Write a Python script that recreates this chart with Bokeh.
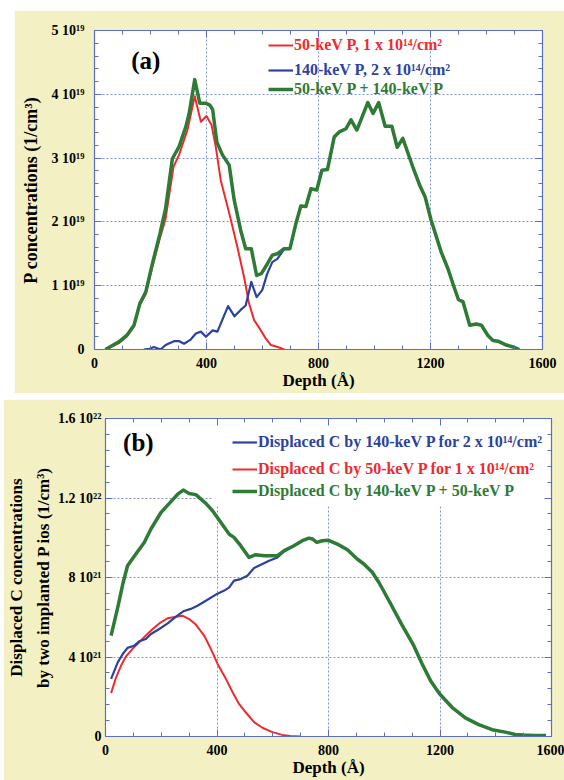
from bokeh.plotting import figure
from bokeh.models import (LinearAxis, FixedTicker, Legend, LegendItem, Label, Range1d,
                          CustomJSTickFormatter, BoxAnnotation)
from bokeh.core.properties import value
from bokeh.embed import file_html
from bokeh.resources import INLINE

# ---------------- data: panel (a), P concentrations in units of 1e19 /cm3 ----------------
a_green_x = [39, 87, 115, 141, 162, 183, 207, 234, 254, 278, 302, 326, 338, 358, 376, 398, 412, 422,
             437, 457, 481, 499, 522, 540, 560, 579, 596, 617, 635, 653, 677, 698, 719, 737, 755, 773,
             794, 812, 832, 856, 874, 898, 916, 937, 976, 995, 1015, 1038, 1062, 1081, 1101, 1137,
             1161, 1181, 1202, 1238, 1262, 1284, 1300, 1316, 1340, 1364, 1382, 1405, 1423, 1441,
             1471, 1495, 1517]
a_green_y = [0, 0.12, 0.22, 0.38, 0.72, 0.90, 1.35, 1.82, 2.21, 2.99, 3.18, 3.49, 3.70, 4.23, 3.86,
             3.86, 3.83, 3.76, 3.25, 3.05, 2.89, 2.34, 1.87, 1.58, 1.58, 1.16, 1.19, 1.34, 1.48, 1.50,
             1.58, 1.58, 1.97, 2.25, 2.24, 2.52, 2.50, 2.81, 2.82, 3.33, 3.41, 3.46, 3.60, 3.44, 3.87,
             3.70, 3.87, 3.50, 3.50, 3.17, 3.31, 2.86, 2.58, 2.39, 2.03, 1.53, 1.27, 0.98, 0.78, 0.75,
             0.38, 0.40, 0.38, 0.22, 0.14, 0.13, 0.07, 0.04, 0]

a_red_x = [39, 87, 115, 141, 162, 183, 207, 234, 254, 282, 302, 332, 358, 380, 400, 418, 433, 451,
           475, 486, 510, 534, 552, 570, 594, 612, 630, 654, 678]
a_red_y = [0, 0.10, 0.20, 0.36, 0.70, 0.87, 1.30, 1.75, 2.05, 2.86, 3.05, 3.44, 3.97, 3.57, 3.66,
           3.52, 3.18, 2.65, 2.24, 2.05, 1.61, 1.14, 0.72, 0.46, 0.30, 0.17, 0.07, 0.04, 0]

a_blue_x = [176, 197, 212, 236, 254, 284, 303, 320, 342, 362, 380, 398, 422, 439, 477, 500, 522, 540,
            560, 579, 599, 617, 635, 653, 677, 698, 719, 737, 755, 773, 794, 812, 832, 856, 874, 898,
            916, 937, 976, 995, 1015, 1038, 1062, 1081, 1101, 1137, 1161, 1181, 1202, 1238, 1262,
            1284, 1300, 1316, 1340, 1364, 1382, 1405, 1423, 1441, 1471, 1495, 1517]
a_blue_y = [0, 0.01, 0.04, 0, 0.07, 0.13, 0.13, 0.09, 0.15, 0.25, 0.28, 0.20, 0.30, 0.28, 0.68, 0.52,
            0.62, 0.69, 1.06, 0.82, 0.93, 1.19, 1.37, 1.42, 1.57, 1.58, 1.97, 2.25, 2.24, 2.52, 2.50,
            2.81, 2.82, 3.33, 3.41, 3.46, 3.60, 3.44, 3.87, 3.70, 3.87, 3.50, 3.50, 3.17, 3.31, 2.86,
            2.58, 2.39, 2.03, 1.53, 1.27, 0.98, 0.78, 0.75, 0.38, 0.40, 0.38, 0.22, 0.14, 0.13, 0.07,
            0.04, 0]

# ---------------- data: panel (b), displaced C in units of 1e21 /cm3 ----------------
b_green_x = [20, 44, 62, 79, 109, 139, 163, 199, 229, 259, 279, 300, 324, 360, 384, 414, 444, 461,
             485, 515, 539, 569, 617, 641, 676, 706, 730, 742, 758, 778, 798, 832, 868, 903, 927,
             957, 981, 1017, 1065, 1106, 1136, 1166, 1199, 1243, 1291, 1339, 1387, 1434, 1470, 1500,
             1540, 1580]
b_green_y = [5.08, 6.50, 7.67, 8.59, 9.18, 9.76, 10.44, 11.27, 11.73, 12.19, 12.40, 12.23, 12.17,
             11.73, 11.36, 10.77, 10.18, 10.02, 9.60, 9.01, 9.15, 9.10, 9.10, 9.35, 9.60, 9.85, 9.98,
             9.94, 9.77, 9.85, 9.88, 9.68, 9.40, 8.93, 8.68, 8.26, 7.75, 6.83, 5.58, 4.57, 3.65, 2.81,
             2.14, 1.47, 0.94, 0.60, 0.34, 0.22, 0.10, 0.07, 0.05, 0.05]

b_red_x = [20, 38, 56, 73, 97, 121, 145, 169, 193, 223, 253, 276, 300, 324, 354, 378, 402, 432, 456,
           479, 503, 533, 563, 599, 634, 664, 700]
b_red_y = [2.18, 2.98, 3.57, 4.02, 4.41, 4.74, 5.08, 5.41, 5.69, 5.95, 6.03, 6.08, 5.91, 5.63, 5.08,
           4.41, 3.65, 2.90, 2.23, 1.64, 1.22, 0.72, 0.44, 0.22, 0.08, 0.03, 0]

b_blue_x = [20, 44, 62, 79, 103, 121, 145, 163, 193, 223, 253, 279, 306, 330, 360, 396, 426, 444,
            461, 485, 509, 533, 557, 587, 617, 641, 676, 706, 730, 742, 758, 778, 798, 832, 868, 903,
            927, 957, 981, 1017, 1065, 1106, 1136, 1166, 1199, 1243, 1291, 1339, 1387, 1434, 1470,
            1500, 1540, 1580]
b_blue_y = [2.90, 3.73, 4.15, 4.46, 4.57, 4.79, 4.91, 5.16, 5.41, 5.69, 6.03, 6.30, 6.42, 6.58, 6.83,
            7.14, 7.34, 7.50, 7.84, 7.92, 8.09, 8.48, 8.64, 8.84, 9.01, 9.31, 9.60, 9.85, 9.98, 9.94,
            9.77, 9.85, 9.88, 9.68, 9.40, 8.93, 8.68, 8.26, 7.75, 6.83, 5.58, 4.57, 3.65, 2.81, 2.14,
            1.47, 0.94, 0.60, 0.34, 0.22, 0.10, 0.07, 0.05, 0.05]

# ---------------- ticks / labels ----------------
x_ticks = [0, 400, 800, 1200, 1600]
x_minor = list(range(0, 1601, 100))
a_y_ticks = [0, 1, 2, 3, 4, 5]
a_y_minor = [i * 0.2 for i in range(26)]
a_y_labels = {0: "0", 1: "1 10¹⁹", 2: "2 10¹⁹", 3: "3 10¹⁹", 4: "4 10¹⁹", 5: "5 10¹⁹"}
b_y_ticks = [0, 4, 8, 12, 16]
b_y_minor = [i * 0.8 for i in range(21)]
b_y_labels = {0: "0", 4: "4 10²¹", 8: "8 10²¹", 12: "1.2 10²²", 16: "1.6 10²²"}

leg_a = ["50-keV P, 1 x 10¹⁴/cm²", "140-keV P, 2 x 10¹⁴/cm²", "50-keV P + 140-keV P"]
leg_b = ["Displaced C by 140-keV P for 2 x 10¹⁴/cm²", "Displaced C by 50-keV P for 1 x 10¹⁴/cm²",
         "Displaced C by 140-keV P + 50-keV P"]

FONT = "Liberation Serif"
RED = "#ee2a2e"
BLUE = "#2c42a0"
GREEN = "#2d7b35"
YELLOW = "#f3f1c3"
AXIS = "#5a6ec4"
GRID = "#8192d8"


def make_fig(w, h, ylim, yticks, yminor, ylabels, ylabel, ylabel_size, borders, tick_standoff,
             lab_standoff, line_height):
    p = figure(width=w, height=h, output_backend="svg", toolbar_location=None,
               x_range=Range1d(0, 1600), y_range=Range1d(*ylim),
               min_border_left=borders[0], min_border_right=borders[1],
               min_border_top=borders[2], min_border_bottom=borders[3])
    p.background_fill_color = "white"
    p.border_fill_color = YELLOW
    p.outline_line_color = AXIS
    xt = FixedTicker(ticks=x_ticks, minor_ticks=x_minor)
    yt = FixedTicker(ticks=yticks, minor_ticks=yminor)
    bottom = p.below[0]
    left = p.left[0]
    bottom.ticker = xt
    left.ticker = yt
    left.major_label_overrides = ylabels
    blank = CustomJSTickFormatter(code="return '';")
    top = LinearAxis(ticker=xt, formatter=blank)
    right = LinearAxis(ticker=yt, formatter=blank)
    p.add_layout(top, "above")
    p.add_layout(right, "right")
    for ax in [bottom, left, top, right]:
        ax.axis_line_color = AXIS
        ax.axis_line_width = 1.2
        ax.major_tick_line_color = AXIS
        ax.minor_tick_line_color = AXIS
        ax.major_tick_in = 7
        ax.major_tick_out = 0
        ax.minor_tick_in = 4
        ax.minor_tick_out = 0
        ax.major_label_text_font = FONT
        ax.major_label_text_font_style = "bold"
        ax.major_label_text_font_size = "14px"
        ax.major_label_text_color = "black"
        ax.axis_label_text_font = FONT
        ax.axis_label_text_font_style = "bold"
        ax.axis_label_text_font_size = "17px"
        ax.axis_label_text_color = "black"
    for ax in [top, right]:
        ax.major_label_standoff = 0
    bottom.major_label_standoff = 8
    bottom.axis_label = "Depth (Å)"
    bottom.axis_label_standoff = 0
    left.major_label_standoff = tick_standoff
    left.axis_label = ylabel
    left.axis_label_text_font_size = ylabel_size
    left.axis_label_standoff = lab_standoff
    left.axis_label_text_line_height = line_height
    for g in [p.xgrid[0], p.ygrid[0]]:
        g.grid_line_color = GRID
        g.grid_line_dash = "2 2"
        g.grid_line_width = 1
    return p


def add_legend(p, r, text, color, loc):
    lg = Legend(items=[LegendItem(label=value(text), renderers=[r])], location=loc,
                label_text_color=color, label_text_font=FONT, label_text_font_style="bold",
                label_text_font_size="16px", glyph_width=25, glyph_height=16, label_height=16,
                label_standoff=1, padding=2, margin=0, spacing=0, border_line_color=None,
                background_fill_alpha=0.0)
    p.add_layout(lg, "center")


# ---------------- panel (a) ----------------
p1 = make_fig(550, 383, (0, 5), a_y_ticks, a_y_minor, a_y_labels, "P concentrations (1/cm³)",
              "18px", (80, 22, 20, 44), 10, 8, 1.2)
r1 = p1.line(a_red_x, a_red_y, line_color=RED, line_width=2, line_join="round")
b1 = p1.line(a_blue_x, a_blue_y, line_color=BLUE, line_width=2.2, line_join="round")
g1 = p1.line(a_green_x, a_green_y, line_color=GREEN, line_width=3.5, line_join="round")
add_legend(p1, r1, leg_a[0], RED, (174, 295))
add_legend(p1, b1, leg_a[1], BLUE, (174, 270))
add_legend(p1, g1, leg_a[2], GREEN, (174, 251))
p1.add_layout(Label(x=131, y=4.53, text="(a)", text_font=FONT, text_font_style="bold",
                    text_font_size="25px", text_baseline="middle", text_color="black"))
p1.margin = (10, 0, 0, 14)

# ---------------- panel (b) ----------------
p2 = make_fig(561, 381, (0, 16), b_y_ticks, b_y_minor, b_y_labels,
              "Displaced C concentrations\nby two implanted P ios (1/cm³)", "17px",
              (101, 13, 19, 44), 4, 2, 1.45)
# white legend panel hiding the grid behind the legend (drawn under lines and ticks)
p2.add_layout(BoxAnnotation(left=385, right=1600, bottom=11.6, top=16, fill_color="white",
                            fill_alpha=1.0, line_color=None, level="underlay"))
r2 = p2.line(b_red_x, b_red_y, line_color=RED, line_width=2, line_join="round")
b2 = p2.line(b_blue_x, b_blue_y, line_color=BLUE, line_width=2.2, line_join="round")
g2 = p2.line(b_green_x, b_green_y, line_color=GREEN, line_width=3.5, line_join="round")
add_legend(p2, b2, leg_b[0], BLUE, (127, 285))
add_legend(p2, r2, leg_b[1], RED, (127, 258))
add_legend(p2, g2, leg_b[2], GREEN, (127, 236))
p2.add_layout(Label(x=63, y=14.77, text="(b)", text_font=FONT, text_font_style="bold",
                    text_font_size="25px", text_baseline="middle", text_color="black"))
p2.margin = (6, 0, 0, 3)

# two independent roots so that the frames are not aligned to each other
open("out.html", "w").write(file_html([p1, p2], INLINE))
